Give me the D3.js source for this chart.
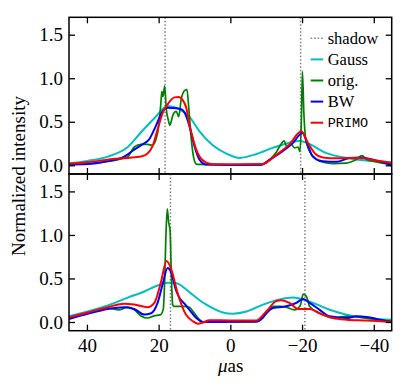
<!DOCTYPE html>
<html>
<head>
<meta charset="utf-8">
<script src="https://cdn.jsdelivr.net/npm/d3@7"></script>
</head>
<body style="margin:0; background:#fff">
<div id="plot"></div>
<script>
// x in µas, y normalized intensity; panels: top / bottom
const xTicks = [40, 20, 0, -20, -40];
const yTicks = [0, 0.5, 1.0, 1.5];
const legendLabels = ["shadow", "Gauss", "orig.", "BW", "PRIMO"];

const topShadow = [18.2, -19.6];
const botShadow = [16.7, -20.8];

const topGauss = [[45,0.02],[39.8,0.05],[34.2,0.10],[28.6,0.21],[24.9,0.38],[21.2,0.54],[17.5,0.68],[14,0.64],[11.3,0.55],[8.6,0.39],[4.9,0.23],[1.1,0.135],[-2.6,0.085],[-7.3,0.13],[-11.8,0.2],[-16.5,0.26],[-19.3,0.28],[-21.2,0.26],[-26.8,0.14],[-32.4,0.085],[-37.9,0.055],[-45,0.03]];
const topOrig = [[45,0.01],[40,0.02],[35,0.04],[30,0.08],[28.6,0.10],[26.8,0.21],[24.9,0.24],[23.1,0.24],[21.7,0.23],[20.3,0.37],[19.4,0.70],[19.1,0.85],[18.8,0.79],[18.3,0.91],[17.9,0.66],[17.3,0.52],[16.9,0.46],[16.0,0.58],[15.1,0.62],[14.4,0.56],[13.7,0.76],[12.7,0.86],[12.1,0.87],[11.6,0.66],[10.9,0.30],[10,0.05],[9.3,0.01],[0,0.005],[-8,0.005],[-9,0.01],[-11,0.065],[-12.8,0.15],[-13.8,0.22],[-15,0.28],[-15.8,0.21],[-17,0.24],[-17.9,0.20],[-18.9,0.21],[-19.4,0.16],[-19.8,0.5],[-20.1,1.08],[-20.5,0.6],[-21.2,0.26],[-23.1,0.10],[-24.9,0.046],[-28.6,0.02],[-32.3,0.025],[-35.1,0.066],[-36.7,0.11],[-37.9,0.07],[-39.8,0.046],[-45,0.01]];
const topBW = [[45,0.01],[39.8,0.015],[34.2,0.05],[29.6,0.10],[26.8,0.18],[24.5,0.24],[22.6,0.30],[20.8,0.45],[18.9,0.62],[17.5,0.66],[15,0.655],[13.5,0.64],[12.7,0.60],[11.4,0.45],[10,0.22],[8.6,0.065],[6.7,0.008],[0,0.003],[-8.5,0.005],[-11,0.065],[-13.8,0.14],[-17.5,0.26],[-20.1,0.37],[-21.7,0.22],[-23,0.10],[-25.8,0.046],[-29.6,0.04],[-33.3,0.085],[-36.1,0.09],[-39.8,0.065],[-45,0.0]];
const topPRIMO = [[45,0.02],[39.8,0.035],[34.2,0.065],[28.6,0.085],[24.9,0.10],[23.1,0.135],[21.7,0.22],[20.3,0.41],[18.9,0.60],[17.5,0.70],[15.6,0.78],[14.4,0.785],[13.3,0.75],[12.3,0.66],[11.4,0.46],[10.4,0.30],[9.5,0.18],[8.6,0.10],[6.7,0.03],[4.9,0.012],[0,0.012],[-9,0.015],[-12.8,0.12],[-16.5,0.24],[-19.8,0.39],[-21.6,0.26],[-23.5,0.14],[-25.8,0.09],[-29.6,0.08],[-36.1,0.085],[-40.7,0.055],[-45,0.03]];

const botGauss = [[45,0.065],[39.8,0.12],[34.2,0.19],[28.6,0.28],[24,0.35],[20.3,0.42],[17.5,0.45],[15.6,0.45],[14.1,0.43],[12.8,0.39],[10.4,0.31],[8.6,0.25],[6.7,0.20],[2.1,0.11],[-0.7,0.095],[-4.5,0.12],[-9.1,0.20],[-13.8,0.26],[-17.5,0.28],[-19.3,0.27],[-23,0.22],[-27.7,0.14],[-32.4,0.084],[-38,0.046],[-45,0.025]];
const botOrig = [[45,0.046],[39.8,0.10],[34.2,0.16],[31,0.14],[28.6,0.17],[26.8,0.14],[24.9,0.07],[23.1,0.046],[21.2,0.07],[19.4,0.085],[18.7,0.15],[18.3,0.5],[18.0,0.95],[17.6,1.30],[17.2,1.14],[16.8,1.05],[16.5,0.6],[16.1,0.20],[15.8,0.18],[13,0.18],[11.4,0.17],[10.4,0.12],[8.6,0.027],[7.6,0.0],[-6.8,0.0],[-9.1,0.046],[-10.5,0.12],[-11.9,0.18],[-13.8,0.18],[-15.6,0.17],[-17.9,0.14],[-18.9,0.16],[-19.6,0.2],[-20.3,0.32],[-21.2,0.295],[-22.1,0.18],[-24.9,0.10],[-28.6,0.046],[-32.4,0.065],[-35,0.06],[-38.9,0.038],[-45,0.007]];
const botBW = [[45,0.035],[39.8,0.095],[34.2,0.15],[29.6,0.17],[26.8,0.15],[24,0.085],[22.1,0.10],[20.3,0.22],[18.9,0.43],[17.5,0.62],[16.6,0.58],[15.2,0.37],[14.1,0.27],[12.8,0.21],[11.4,0.14],[9.5,0.046],[7.6,0.0],[-7.5,0.005],[-8.5,0.03],[-10,0.10],[-11.9,0.16],[-15.6,0.18],[-18.4,0.22],[-20.3,0.265],[-22.1,0.22],[-24.9,0.14],[-27.7,0.065],[-32.4,0.046],[-35.1,0.065],[-38,0.058],[-41.6,0.027],[-45,0.0]];
const botPRIMO = [[45,0.053],[39.8,0.11],[34.2,0.17],[29.6,0.21],[26.8,0.20],[23.1,0.17],[21.2,0.22],[19.4,0.45],[17.8,0.70],[16.6,0.62],[14.7,0.33],[12.4,0.085],[10.4,0.007],[9.0,-0.02],[7.6,-0.005],[5.8,0.02],[0,0.018],[-7.3,0.018],[-10,0.12],[-12.8,0.24],[-14.2,0.25],[-16.5,0.22],[-18.9,0.15],[-22.1,0.15],[-24.9,0.10],[-28.6,0.046],[-32.4,0.027],[-38,0.018],[-45,0.0]];

const colors = { shadow: "#808080", Gauss: "#00bfbf", "orig.": "#008000", BW: "#0000ff", PRIMO: "#ff0000" };
const serif = "Liberation Serif";
const mono = "Liberation Mono";

// touch the fonts once so they are in use before the svg text is laid out
const ctx = document.createElement("canvas").getContext("2d");
[serif, mono].forEach(f => {
  ctx.font = `19px "${f}"`; ctx.measureText("Normalized 1.5");
  ctx.font = `italic 19px "${f}"`; ctx.measureText("μ");
});

const w = 415, h = 390;
const left = 69, right = 391.7;
const panelTops = [17.3, 174];
const panelH = 156.7;

const svg = d3.select("#plot").append("svg")
  .attr("width", w).attr("height", h);

const x = d3.scaleLinear().domain([45, -45]).range([left, right]);

const panels = [
  { top: panelTops[0], shadow: topShadow, series: [["Gauss", topGauss], ["orig.", topOrig], ["BW", topBW], ["PRIMO", topPRIMO]] },
  { top: panelTops[1], shadow: botShadow, series: [["Gauss", botGauss], ["orig.", botOrig], ["BW", botBW], ["PRIMO", botPRIMO]] }
];

panels.forEach((p, i) => {
  const y = d3.scaleLinear().domain([-0.1, 1.7]).range([p.top + panelH, p.top]);
  const g = svg.append("g");
  const clipId = "clip" + i;
  svg.append("clipPath").attr("id", clipId).append("rect")
    .attr("x", left).attr("y", p.top).attr("width", right - left).attr("height", panelH);

  const plot = g.append("g").attr("clip-path", "url(#" + clipId + ")");

  plot.selectAll(".shadow").data(p.shadow).enter().append("line")
    .attr("x1", d => x(d)).attr("x2", d => x(d))
    .attr("y1", p.top).attr("y2", p.top + panelH)
    .attr("stroke", colors.shadow).attr("stroke-width", 1.5)
    .attr("stroke-dasharray", "1.5,2");

  const line = d3.line().x(d => x(d[0])).y(d => y(d[1])).curve(d3.curveMonotoneX);
  p.series.forEach(([name, data]) => {
    plot.append("path").datum(data)
      .attr("d", line)
      .attr("fill", "none")
      .attr("stroke", colors[name])
      .attr("stroke-width", name === "orig." ? 1.7 : 2)
      .attr("stroke-linejoin", "round");
  });

  // axes with inward ticks
  const fmt = d3.format(".1f");
  const yl = g.append("g").attr("transform", `translate(${left},0)`)
    .call(d3.axisLeft(y).tickValues(yTicks).tickFormat(fmt).tickSize(-6).tickSizeOuter(0).tickPadding(6));
  const yr = g.append("g").attr("transform", `translate(${right},0)`)
    .call(d3.axisRight(y).tickValues(yTicks).tickFormat("").tickSize(-6).tickSizeOuter(0));
  const xt = g.append("g").attr("transform", `translate(0,${p.top})`)
    .call(d3.axisTop(x).tickValues(xTicks).tickFormat("").tickSize(-6).tickSizeOuter(0));
  const xb = g.append("g").attr("transform", `translate(0,${p.top + panelH})`)
    .call(d3.axisBottom(x).tickValues(xTicks).tickFormat(i === 1 ? d3.format("d") : "").tickSize(-6).tickSizeOuter(0).tickPadding(8));
  [yl, yr, xt, xb].forEach(a => {
    a.attr("font-family", serif).attr("font-size", 19);
    a.select(".domain").remove();
    a.selectAll(".tick line").attr("stroke", "#000").attr("stroke-width", 1.3);
    a.selectAll("text").attr("font-family", serif).attr("font-size", 19).attr("fill", "#000");
  });

  g.append("rect").attr("x", left).attr("y", p.top).attr("width", right - left).attr("height", panelH)
    .attr("fill", "none").attr("stroke", "#000").attr("stroke-width", 1.5);
});

// legend
const legend = svg.append("g").attr("transform", "translate(310.7,38.3)");
legendLabels.forEach((name, i) => {
  const row = legend.append("g").attr("transform", `translate(0,${i * 21.1})`);
  row.append("line").attr("x1", 0).attr("x2", 12.5).attr("y1", 0).attr("y2", 0)
    .attr("stroke", colors[name])
    .attr("stroke-width", name === "shadow" ? 1.5 : 2)
    .attr("stroke-dasharray", name === "shadow" ? "1.5,2" : null);
  row.append("text").attr("x", 17).attr("y", 0).attr("dy", "0.33em")
    .attr("font-family", name === "PRIMO" ? mono : serif)
    .attr("font-size", name === "PRIMO" ? 13.5 : 16.5)
    .text(name);
});

// axis labels
svg.append("text").attr("transform", "translate(25,176) rotate(-90)")
  .attr("text-anchor", "middle").attr("font-family", serif).attr("font-size", 19)
  .text("Normalized intensity");
const xl = svg.append("text").attr("x", 230.7).attr("y", 372).attr("text-anchor", "middle")
  .attr("font-family", serif).attr("font-size", 19);
xl.append("tspan").attr("font-style", "italic").text("μ");
xl.append("tspan").text("as");
</script>
</body>
</html>
